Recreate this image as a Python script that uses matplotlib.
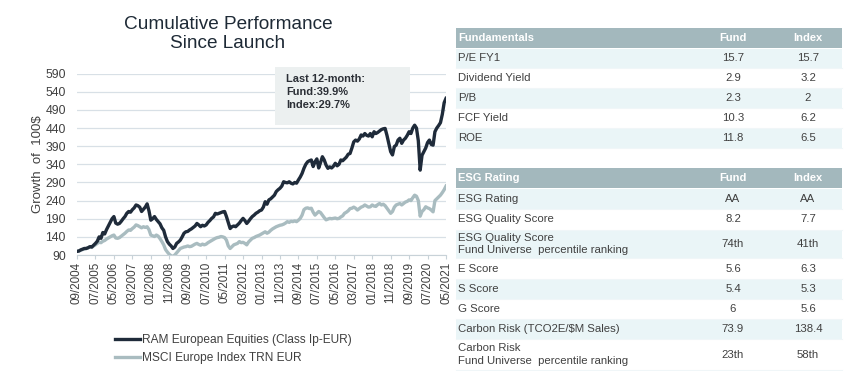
import numpy as np
import pandas as pd
import matplotlib
matplotlib.use("Agg")
import matplotlib.pyplot as plt
from matplotlib.patches import Rectangle

plt.rcParams['font.family'] = ['Liberation Sans', 'DejaVu Sans']

# monthly growth of 100, Sep 2004 .. May 2021
fund = [100, 101, 104, 106, 108, 108, 110, 113, 112, 117,
        122, 128, 140, 136, 152, 148, 160, 170, 180, 190,
        196, 178, 175, 177, 183, 190, 196, 205, 210, 208,
        215, 220, 228, 226, 222, 210, 216, 222, 231, 212,
        186, 190, 196, 188, 182, 176, 165, 158, 140, 127,
        120, 115, 108, 112, 122, 126, 131, 140, 150, 154,
        155, 159, 162, 166, 170, 177, 173, 168, 172, 170,
        173, 180, 185, 191, 195, 205, 203, 205, 207, 209,
        210, 196, 180, 163, 168, 170, 168, 173, 178, 185,
        191, 185, 177, 183, 190, 196, 200, 205, 208, 212,
        214, 222, 237, 230, 242, 245, 250, 255, 265, 270,
        274, 280, 292, 290, 289, 292, 288, 286, 290, 288,
        297, 305, 315, 329, 340, 347, 350, 352, 334, 347,
        355, 330, 345, 361, 352, 338, 329, 333, 330, 335,
        343, 336, 340, 352, 350, 355, 360, 368, 370, 385,
        402, 407, 404, 410, 421, 418, 425, 420, 418, 425,
        416, 430, 425, 428, 432, 436, 438, 439, 420, 398,
        375, 366, 389, 393, 407, 412, 398, 407, 412, 420,
        430, 425, 440, 448, 440, 405, 324, 365, 375, 385,
        400, 407, 395, 393, 430, 440, 447, 455, 478, 510, 522]

index = [100, 101, 103, 105, 107, 108, 110, 112, 111, 115,
         118, 122, 125, 124, 128, 130, 134, 137, 140, 143,
         145, 137, 136, 138, 142, 146, 150, 155, 159, 158,
         163, 167, 173, 171, 168, 165, 168, 166, 168, 160,
         145, 143, 141, 145, 142, 135, 127, 118, 105, 98,
         92, 88, 86, 90, 96, 102, 108, 110, 112, 113,
         115, 113, 114, 117, 120, 122, 119, 117, 120, 118,
         120, 124, 127, 130, 133, 136, 138, 139, 141, 140,
         138, 131, 115, 108, 113, 118, 120, 122, 127, 124,
         125, 122, 118, 126, 131, 136, 138, 141, 143, 145,
         148, 151, 154, 150, 153, 158, 162, 165, 168, 170,
         172, 173, 175, 178, 182, 180, 183, 182, 184, 182,
         186, 191, 200, 215, 219, 220, 218, 219, 208, 200,
         205, 210, 207, 200, 193, 187, 189, 191, 190, 191,
         192, 190, 191, 195, 198, 205, 208, 212, 218, 219,
         222, 219, 214, 218, 222, 224, 228, 225, 222, 223,
         228, 225, 224, 229, 232, 228, 230, 226, 219, 212,
         205, 210, 222, 228, 230, 232, 228, 232, 236, 238,
         242, 240, 248, 255, 252, 240, 197, 210, 215, 223,
         220, 218, 214, 209, 240, 245, 250, 255, 262, 270, 280]

dates = pd.date_range('2004-09-01', periods=len(fund), freq='MS')
yticks = list(range(90, 591, 50))

fund_label = 'RAM European Equities (Class Ip-EUR)'
index_label = 'MSCI Europe Index TRN EUR'
note_lines = ['Last 12-month:', 'Fund:39.9%', 'Index:29.7%']

fund_rows = [('P/E FY1', '15.7', '15.7'),
             ('Dividend Yield', '2.9', '3.2'),
             ('P/B', '2.3', '2'),
             ('FCF Yield', '10.3', '6.2'),
             ('ROE', '11.8', '6.5')]

esg_rows = [('ESG Rating', 'AA', 'AA'),
            ('ESG Quality Score', '8.2', '7.7'),
            ('ESG Quality Score\nFund Universe  percentile ranking', '74th', '41th'),
            ('E Score', '5.6', '6.3'),
            ('S Score', '5.4', '5.3'),
            ('G Score', '6', '5.6'),
            ('Carbon Risk (TCO2E/$M Sales)', '73.9', '138.4'),
            ('Carbon Risk\nFund Universe  percentile ranking', '23th', '58th')]

navy = '#1f2b3a'
grey_line = '#a9bcc0'
text_col = '#404040'

W, H = 848, 371
fig = plt.figure(figsize=(W / 100, H / 100), dpi=100)

# ---- chart ----
ax = fig.add_axes([77 / W, 1 - 255 / H, (446 - 77) / W, (255 - 73.7) / H])
x = np.arange(len(fund))
ax.plot(x, index, color=grey_line, lw=2.4, label=index_label, solid_joinstyle='round')
ax.plot(x, fund, color=navy, lw=2.4, label=fund_label, solid_joinstyle='round')
ax.set_xlim(0, len(fund) - 1)
ax.set_ylim(90, 590)
ax.set_yticks(yticks)
ax.tick_params(axis='y', length=0, labelsize=8.8, labelcolor=text_col, pad=8)
tick_pos = list(range(0, len(fund), 10))
ax.set_xticks(tick_pos)
ax.set_xticklabels([dates[i].strftime('%m/%Y') for i in tick_pos], rotation=90)
ax.tick_params(axis='x', length=3, color='#c8d2d8', labelsize=8.4, labelcolor=text_col, pad=2)
ax.grid(axis='y', color='#d8e0e6', lw=0.9)
ax.set_axisbelow(True)
for s in ['top', 'right', 'left']:
    ax.spines[s].set_visible(False)
ax.spines['bottom'].set_color('#c8d2d8')
ax.set_ylabel('Growth  of  100$', fontsize=9.5, color=text_col, labelpad=1)

handles, labels = ax.get_legend_handles_labels()
fig.legend(handles[::-1], labels[::-1], loc='upper left', bbox_to_anchor=(104 / W, 1 - 323 / H),
           frameon=False, fontsize=8.6, handlelength=2.1, handletextpad=0.2, labelspacing=0.5,
           labelcolor=text_col)

fig.text(228 / W, 1 - 34 / H, 'Cumulative Performance\nSince Launch', ha='center', va='center',
         fontsize=13.7, color='#1e2a36', linespacing=1.1)

# ---- overlay in pixel coordinates for the note box and tables ----
ov = fig.add_axes([0, 0, 1, 1], facecolor='none')
ov.set_xlim(0, W)
ov.set_ylim(H, 0)
ov.axis('off')

ov.add_patch(Rectangle((275, 67), 135, 58, facecolor='#ecf0f0', edgecolor='none'))
for i, line in enumerate(note_lines):
    ov.text(286, 79 + i * 13, line, fontsize=7.9, fontweight='bold', color='#2b2f36', va='center')

head_bg = '#a3b8bd'
band_bg = '#eaf5f7'
x0, x1 = 456, 842
col_fund, col_index = 733, 808


def draw_table(title, rows, top, heights):
    ov.add_patch(Rectangle((x0, top), x1 - x0, 20, facecolor=head_bg, edgecolor='none'))
    ov.text(x0 + 2, top + 10, title, fontsize=8, fontweight='bold', color='white', va='center')
    ov.text(col_fund, top + 10, 'Fund', fontsize=8, fontweight='bold', color='white', va='center', ha='center')
    ov.text(col_index, top + 10, 'Index', fontsize=8, fontweight='bold', color='white', va='center', ha='center')
    y = top + 20
    for i, (row, h) in enumerate(zip(rows, heights)):
        if i % 2 == 0:
            ov.add_patch(Rectangle((x0, y + 0.5), x1 - x0, h - 1, facecolor=band_bg, edgecolor='none'))
        ov.plot([x0, x1], [y + h, y + h], color='#f0f6f8', lw=0.8)
        cy = y + h / 2
        ov.text(x0 + 2, cy, row[0], fontsize=8.2, color=text_col, va='center', linespacing=1.3)
        ov.text(col_fund, cy, row[1], fontsize=8.2, color=text_col, va='center', ha='center')
        ov.text(col_index, cy, row[2], fontsize=8.2, color=text_col, va='center', ha='center')
        y += h


draw_table('Fundamentals', fund_rows, 28, [20] * len(fund_rows))
draw_table('ESG Rating', esg_rows, 168, [21, 21, 28, 21, 20, 20, 20, 31])

fig.savefig('out.png', dpi=100)
